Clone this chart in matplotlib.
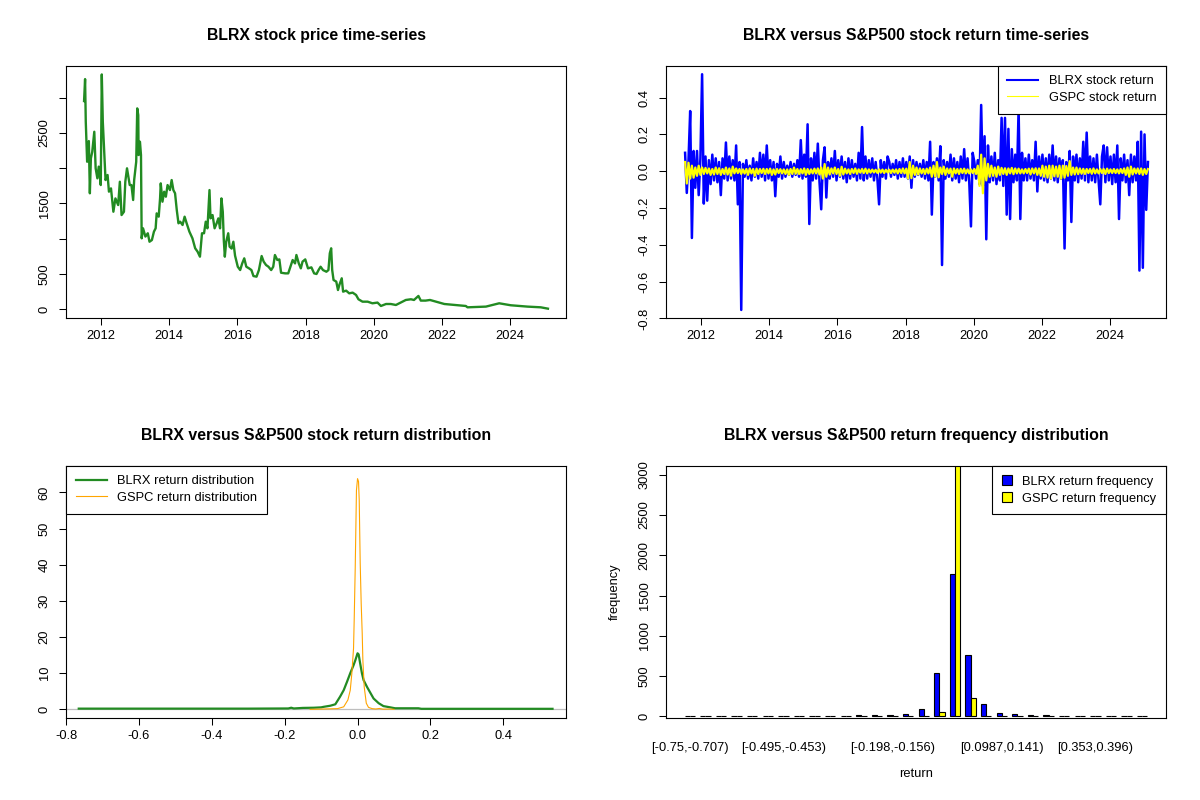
import numpy as np
import matplotlib
matplotlib.use("Agg")
import matplotlib.pyplot as plt
from matplotlib.patches import Patch
from matplotlib.lines import Line2D

plt.rcParams['font.family'] = ['Liberation Sans', 'DejaVu Sans']

# ---- BLRX price (decimal year, price) ----
price_years = [2011.50, 2011.53, 2011.55, 2011.59, 2011.64, 2011.67, 2011.70, 2011.74, 2011.80, 2011.84,
               2011.89, 2011.93, 2011.99, 2012.02, 2012.05, 2012.09, 2012.13, 2012.19, 2012.23, 2012.29,
               2012.36, 2012.42, 2012.50, 2012.55, 2012.60, 2012.67, 2012.71, 2012.76, 2012.84, 2012.89,
               2012.94, 2012.97, 2013.03, 2013.06, 2013.09, 2013.10, 2013.14, 2013.17, 2013.19, 2013.23,
               2013.30, 2013.37, 2013.42, 2013.49, 2013.55, 2013.60, 2013.63, 2013.69, 2013.73, 2013.75,
               2013.80, 2013.85, 2013.90, 2013.95, 2014.02, 2014.07, 2014.12, 2014.17, 2014.22, 2014.27,
               2014.32, 2014.39, 2014.45, 2014.51, 2014.59, 2014.68, 2014.76, 2014.83, 2014.90, 2014.96,
               2015.02, 2015.07, 2015.12, 2015.18, 2015.21, 2015.27, 2015.33, 2015.39, 2015.44, 2015.49,
               2015.53, 2015.57, 2015.60, 2015.63, 2015.67, 2015.73, 2015.77, 2015.83, 2015.88, 2015.93,
               2016.01, 2016.08, 2016.14, 2016.20, 2016.26, 2016.34, 2016.41, 2016.47, 2016.56, 2016.63,
               2016.71, 2016.77, 2016.84, 2016.91, 2016.99, 2017.05, 2017.10, 2017.17, 2017.23, 2017.28,
               2017.40, 2017.49, 2017.57, 2017.62, 2017.69, 2017.73, 2017.80, 2017.86, 2017.91, 2017.99,
               2018.07, 2018.17, 2018.25, 2018.32, 2018.38, 2018.44, 2018.51, 2018.61, 2018.67, 2018.71,
               2018.75, 2018.78, 2018.82, 2018.90, 2018.95, 2018.99, 2019.06, 2019.10, 2019.19, 2019.28,
               2019.38, 2019.48, 2019.55, 2019.67, 2019.82, 2019.96, 2020.11, 2020.21, 2020.36, 2020.50,
               2020.65, 2020.79, 2020.94, 2021.09, 2021.18, 2021.31, 2021.38, 2021.52, 2021.65, 2022.07,
               2022.70, 2022.75, 2023.29, 2023.68, 2024.02, 2024.51, 2024.90, 2025.11]
price_vals = [2950, 3261, 2657, 2090, 2383, 1643, 2138, 2232, 2515, 1997,
              1855, 2021, 1760, 3327, 2657, 2232, 1831, 1902, 1666, 1713,
              1382, 1571, 1477, 1807, 1335, 1382, 1807, 1997, 1760, 1760,
              1548, 1831, 2090, 2846, 2751, 2185, 2374, 2185, 1005, 1147,
              1030, 1077, 957, 981, 1100, 1147, 1359, 1312, 1571, 1784,
              1524, 1666, 1595, 1760, 1689, 1831, 1689, 1643, 1406, 1218,
              1241, 1194, 1312, 1218, 1100, 1005, 864, 817, 745, 1077,
              1077, 1241, 1147, 1689, 1288, 1335, 1147, 1218, 1288, 1147,
              1571, 1382, 981, 745, 957, 1077, 887, 860, 957, 760,
              603, 556, 650, 722, 603, 580, 556, 471, 462, 556,
              755, 675, 627, 603, 556, 603, 769, 698, 707, 518,
              509, 509, 627, 698, 650, 769, 650, 580, 675, 707,
              580, 594, 509, 500, 556, 603, 556, 532, 556, 793,
              864, 556, 415, 392, 273, 344, 439, 250, 264, 226,
              236, 203, 142, 108, 108, 85, 95, 47, 75, 75,
              61, 95, 132, 142, 132, 189, 123, 123, 132, 75,
              47, 28, 38, 85, 57, 38, 28, 9]

# ---- daily-return traces (sampled every ~0.05 yr from 2011.53 to 2025.11) ----
ret_start, ret_end = 2011.53, 2025.11
blrx_ret = [
    0.10, -0.118, 0.06, 0.327, -0.363, 0.11, -0.09, 0.11, -0.13, 0.07, 0.527, -0.176, 0.08, -0.16, 0.06, -0.07, 0.09, -0.05, 0.07, -0.06,
    0.05, -0.13, 0.07, -0.04, 0.156, -0.05, 0.08, -0.04, 0.06, -0.05, 0.14, -0.18, 0.05, -0.754, 0.04, -0.03, 0.06, -0.04, 0.03, -0.05,
    0.07, -0.03, 0.05, -0.04, 0.10, -0.03, 0.09, -0.05, 0.14, -0.04, 0.06, -0.05, 0.05, -0.136, 0.04, -0.03, 0.08, -0.04, 0.05, -0.03,
    0.03, -0.02, 0.05, -0.03, 0.04, -0.02, 0.06, -0.03, 0.169, -0.04, 0.09, -0.03, 0.255, -0.287, 0.07, -0.05, 0.10, -0.04, 0.15, -0.06,
    -0.207, 0.06, 0.13, -0.143, 0.05, -0.04, 0.07, -0.03, 0.11, -0.05, 0.06, -0.03, 0.08, -0.04, 0.05, -0.06, 0.07, -0.04, 0.06, -0.03,
    0.04, -0.05, 0.10, -0.04, 0.24, -0.05, 0.08, -0.04, 0.06, -0.03, 0.07, -0.05, 0.05, -0.04, -0.18, 0.06, -0.03, 0.05, -0.04, 0.08,
    0.05, -0.03, 0.04, -0.02, 0.06, -0.04, 0.05, -0.03, 0.07, -0.03, 0.05, -0.04, 0.08, -0.09, 0.06, -0.03, 0.05, -0.02, 0.04, -0.03,
    0.06, -0.04, 0.05, -0.05, 0.16, -0.236, 0.05, -0.03, 0.07, -0.05, 0.136, -0.51, 0.06, -0.04, 0.05, -0.03, 0.09, -0.05, 0.07, -0.04,
    0.05, -0.06, 0.08, -0.04, 0.12, -0.05, 0.07, -0.06, -0.30, 0.10, 0.05, -0.04, 0.06, -0.07, 0.36, -0.08, 0.19, -0.37, 0.14, -0.06,
    0.08, -0.05, 0.10, -0.07, 0.06, -0.05, 0.29, -0.08, 0.29, -0.236, 0.23, -0.26, 0.12, -0.06, 0.09, -0.05, 0.34, -0.26, 0.10, -0.05,
    0.07, -0.05, 0.09, -0.04, 0.06, -0.05, 0.16, -0.11, 0.08, -0.04, 0.09, -0.05, 0.07, -0.06, 0.09, -0.04, 0.14, -0.05, 0.08, -0.06,
    0.07, -0.04, 0.06, -0.42, 0.05, -0.05, 0.11, -0.276, 0.08, -0.05, 0.09, -0.06, 0.07, -0.04, 0.16, -0.05, 0.21, -0.06, 0.08, -0.05,
    0.07, -0.06, 0.09, -0.05, -0.18, 0.08, 0.14, -0.06, 0.13, -0.05, 0.08, -0.07, 0.09, -0.06, 0.14, -0.26, 0.07, -0.05, 0.09, -0.06,
    0.06, -0.13, 0.09, -0.06, 0.08, -0.05, 0.16, -0.54, 0.215, -0.525, 0.20, -0.21, 0.05,
]
gspc_ret = [
    0.05, -0.067, 0.046, -0.04, 0.03, -0.035, 0.02, -0.025, 0.03, -0.02, 0.02, -0.015, 0.018, -0.012, 0.015, -0.02, 0.012, -0.018, 0.02, -0.015,
    0.016, -0.02, 0.012, -0.015, 0.02, -0.018, 0.015, -0.024, 0.025, -0.012, 0.015, -0.01, 0.012, -0.015, 0.01, -0.013, 0.012, -0.02, 0.015, -0.012,
    0.012, -0.025, 0.014, -0.015, 0.012, -0.01, 0.013, -0.015, 0.012, -0.012, 0.014, -0.02, 0.01, -0.018, 0.012, -0.01, 0.011, -0.012, 0.01, -0.015,
    0.01, -0.02, 0.012, -0.015, 0.02, -0.014, 0.012, -0.015, 0.011, -0.012, 0.015, -0.02, 0.012, -0.015, 0.01, -0.012, 0.014, -0.012, 0.015, -0.018,
    0.02, -0.04, 0.039, -0.03, 0.02, -0.018, 0.015, -0.012, 0.02, -0.015, 0.012, -0.025, 0.024, -0.018, 0.014, -0.012, 0.01, -0.015, 0.012, -0.01,
    0.015, -0.014, 0.01, -0.008, 0.012, -0.01, 0.014, -0.012, 0.01, -0.008, 0.009, -0.007, 0.008, -0.009, 0.01, -0.008, 0.009, -0.01, 0.008, -0.007,
    0.008, -0.01, 0.009, -0.008, 0.01, -0.012, 0.012, -0.01, 0.015, -0.012, 0.014, -0.04, 0.05, -0.038, 0.03, -0.02, 0.02, -0.018, 0.015, -0.012,
    0.012, -0.015, 0.014, -0.012, 0.02, -0.03, 0.03, -0.03, 0.05, -0.033, 0.02, -0.015, 0.025, -0.02, 0.015, -0.012, 0.014, -0.03, 0.015, -0.012,
    0.012, -0.015, 0.013, -0.01, 0.014, -0.012, 0.01, -0.012, 0.01, -0.01, 0.012, -0.015, 0.03, -0.08, 0.09, -0.12, 0.07, -0.05, 0.04, -0.03,
    0.03, -0.025, 0.02, -0.03, 0.025, -0.02, 0.018, -0.015, 0.016, -0.02, 0.015, -0.012, 0.018, -0.016, 0.015, -0.012, 0.014, -0.012, 0.01, -0.012,
    0.012, -0.01, 0.014, -0.018, 0.015, -0.012, 0.016, -0.02, 0.015, -0.025, 0.03, -0.03, 0.025, -0.035, 0.03, -0.04, 0.03, -0.028, 0.025, -0.03,
    0.03, -0.04, 0.03, -0.035, 0.028, -0.025, 0.055, -0.02, 0.02, -0.018, 0.02, -0.016, 0.015, -0.014, 0.013, -0.015, 0.012, -0.01, 0.012, -0.014,
    0.015, -0.012, 0.01, -0.012, 0.012, -0.01, 0.012, -0.015, 0.014, -0.01, 0.01, -0.01, 0.012, -0.01, 0.01, -0.012, 0.012, -0.01, 0.015, -0.02,
    0.02, -0.03, 0.025, -0.018, 0.015, -0.012, 0.015, -0.015, 0.015, -0.02, 0.012, -0.015, 0.012,
]

# ---- kernel densities ----
blrx_dens_x = [-0.765, -0.30, -0.19, -0.182, -0.175, -0.15, -0.12, -0.10, -0.093, -0.075, -0.061, -0.048,
               -0.038, -0.029, -0.020, -0.011, -0.006, 0.000, 0.003, 0.007, 0.012, 0.0165, 0.026, 0.035,
               0.044, 0.058, 0.071, 0.090, 0.103, 0.167, 0.175, 0.535]
blrx_dens_y = [0.2, 0.2, 0.25, 0.45, 0.25, 0.4, 0.45, 0.55, 0.7, 1.0, 1.4, 3.5,
               5.3, 7.6, 10.0, 12.2, 13.6, 15.5, 15.2, 12.8, 10.0, 8.1, 6.2, 4.6,
               3.0, 1.7, 0.9, 0.55, 0.3, 0.3, 0.15, 0.15]
gspc_dens_x = [-0.13, -0.055, -0.038, -0.0265, -0.020, -0.0156, -0.011, -0.0092, -0.0064, -0.003, 0.000, 0.0027,
               0.0046, 0.0073, 0.010, 0.0128, 0.0146, 0.0183, 0.024, 0.030, 0.040, 0.050, 0.060, 0.070, 0.090, 0.10]
gspc_dens_y = [0.0, 0.2, 0.7, 2.6, 5.3, 10.0, 16.9, 24.7, 39.0, 60.6, 63.8, 63.0,
               57.9, 40.4, 29.3, 21.0, 13.6, 6.2, 1.7, 0.55, 0.2, 0.1, 0.25, 0.05, 0.1, 0.0]

# ---- return frequency table ----
bin_labels = ['[-0.75,-0.707)', '[-0.707,-0.665)', '[-0.665,-0.622)', '[-0.622,-0.58)', '[-0.58,-0.537)',
              '[-0.537,-0.495)', '[-0.495,-0.453)', '[-0.453,-0.41)', '[-0.41,-0.368)', '[-0.368,-0.325)',
              '[-0.325,-0.283)', '[-0.283,-0.24)', '[-0.24,-0.198)', '[-0.198,-0.156)', '[-0.156,-0.113)',
              '[-0.113,-0.0709)', '[-0.0709,-0.0285)', '[-0.0285,0.0139)', '[0.0139,0.0563)', '[0.0563,0.0987)',
              '[0.0987,0.141)', '[0.141,0.184)', '[0.184,0.226)', '[0.226,0.268)', '[0.268,0.311)',
              '[0.311,0.353)', '[0.353,0.396)', '[0.396,0.438)', '[0.438,0.48)', '[0.48,0.523]']
blrx_freq = [1, 0, 0, 0, 0, 1, 0, 0, 0, 0, 1, 12, 12, 12, 29, 87, 533, 1766, 760, 149,
             41, 29, 12, 12, 3, 2, 1, 0, 0, 1]
gspc_freq = [0, 0, 0, 0, 0, 0, 0, 0, 0, 0, 0, 0, 0, 0, 1, 2, 54, 3130, 223, 8,
             0, 0, 0, 0, 0, 0, 0, 0, 0, 0]
shown_labels = [0, 6, 13, 20, 26]

FS = 9.3
TFS = 11.4
fig = plt.figure(figsize=(12, 8), dpi=100)


def add_px_axes(left, top, right, bottom):
    return fig.add_axes([left / 1200, 1 - bottom / 800, (right - left) / 1200, (bottom - top) / 800])


def r_style(ax):
    for s in ax.spines.values():
        s.set_linewidth(0.8)
        s.set_color('black')
    ax.tick_params(direction='out', length=5, width=0.75, labelsize=FS, colors='black')
    ax.tick_params(axis='x', pad=3.5)
    ax.tick_params(axis='y', pad=6)
    for lab in ax.get_yticklabels():
        lab.set_rotation(90)
        lab.set_va('center')


def title(ax, text):
    pos = ax.get_position()
    fig.text(pos.x0 + pos.width / 2, pos.y1 + 30 / 800, text, ha='center', va='center',
             fontsize=TFS, fontweight='bold')


def r_legend(ax, handles, labels, loc, **kw):
    leg = ax.legend(handles, labels, loc=loc, fontsize=FS, frameon=True, fancybox=False,
                    borderaxespad=0, handletextpad=0.8, borderpad=0.75, labelspacing=0.35,
                    framealpha=1, **kw)
    leg.get_frame().set_edgecolor('black')
    leg.get_frame().set_linewidth(0.8)
    return leg


year_ticks = [2012, 2014, 2016, 2018, 2020, 2022, 2024]

# top-left: price
ax1 = add_px_axes(66, 65.6, 566, 318.4)
ax1.plot(price_years, price_vals, color='forestgreen', lw=1.7)
ax1.set_xlim(2010.97, 2025.64)
ax1.set_ylim(-129, 3452)
ax1.set_xticks(year_ticks)
ax1.set_xticklabels([str(y) for y in year_ticks])
ax1.set_yticks([0, 500, 1000, 1500, 2000, 2500, 3000])
ax1.set_yticklabels(['0', '500', '', '1500', '', '2500', ''])
r_style(ax1)
title(ax1, 'BLRX stock price time-series')

# top-right: returns
ax2 = add_px_axes(666, 65.6, 1166, 318.4)
ret_x_b = np.linspace(ret_start, ret_end, len(blrx_ret))
ret_x_g = np.linspace(ret_start, ret_end, len(gspc_ret))
ax2.plot(ret_x_b, blrx_ret, color='#0000FF', lw=1.8)
ax2.plot(ret_x_g, gspc_ret, color='#FFFF00', lw=1.6)
ax2.set_xlim(2010.97, 2025.64)
ax2.set_ylim(-0.80, 0.574)
ax2.set_xticks(year_ticks)
ax2.set_xticklabels([str(y) for y in year_ticks])
ax2.set_yticks([-0.8, -0.6, -0.4, -0.2, 0.0, 0.2, 0.4])
ax2.set_yticklabels(['-0.8', '-0.6', '-0.4', '-0.2', '0.0', '0.2', '0.4'])
r_style(ax2)
r_legend(ax2, [Line2D([], [], color='#0000FF', lw=1.5), Line2D([], [], color='#FFFF00', lw=0.8)],
         ['BLRX stock return', 'GSPC stock return'], 'upper right', handlelength=2.4)
title(ax2, 'BLRX versus S&P500 stock return time-series')

# bottom-left: density
ax3 = add_px_axes(66, 465.6, 566, 718.4)
ax3.axhline(0, color='#BEBEBE', lw=0.9, zorder=1)
ax3.plot(blrx_dens_x, blrx_dens_y, color='forestgreen', lw=1.6, zorder=2)
ax3.plot(gspc_dens_x, gspc_dens_y, color='#FFA500', lw=0.8, zorder=3)
ax3.set_xlim(-0.80, 0.572)
ax3.set_ylim(-2.5, 67.4)
ax3.set_xticks([-0.8, -0.6, -0.4, -0.2, 0.0, 0.2, 0.4])
ax3.set_xticklabels(['-0.8', '-0.6', '-0.4', '-0.2', '0.0', '0.2', '0.4'])
ax3.set_yticks([0, 10, 20, 30, 40, 50, 60])
ax3.set_yticklabels(['0', '10', '20', '30', '40', '50', '60'])
r_style(ax3)
r_legend(ax3, [Line2D([], [], color='forestgreen', lw=1.6), Line2D([], [], color='#FFA500', lw=0.8)],
         ['BLRX return distribution', 'GSPC return distribution'], 'upper left', handlelength=2.4)
title(ax3, 'BLRX versus S&P500 stock return distribution')

# bottom-right: grouped frequency bars
ax4 = add_px_axes(666, 465.6, 1166, 718.4)
groups = np.arange(len(bin_labels))
ax4.bar(1.5 + 3 * groups, blrx_freq, width=1, color='#0000FF', edgecolor='black', linewidth=0.8)
ax4.bar(2.5 + 3 * groups, gspc_freq, width=1, color='#FFFF00', edgecolor='black', linewidth=0.8)
ax4.set_xlim(-2.56, 93.56)
ax4.set_ylim(-24, 3112)
ax4.set_xticks([2 + 3 * g for g in shown_labels])
ax4.set_xticklabels([bin_labels[g] for g in shown_labels])
ax4.set_yticks([0, 500, 1000, 1500, 2000, 2500, 3000])
ax4.set_yticklabels(['0', '500', '1000', '1500', '2000', '2500', '3000'])
r_style(ax4)
ax4.tick_params(axis='x', length=0, pad=17)
ax4.set_xlabel('return', fontsize=FS, labelpad=10)
ax4.set_ylabel('frequency', fontsize=FS, labelpad=13)
r_legend(ax4, [Patch(facecolor='#0000FF', edgecolor='black', linewidth=0.8),
               Patch(facecolor='#FFFF00', edgecolor='black', linewidth=0.8)],
         ['BLRX return frequency', 'GSPC return frequency'], 'upper right',
         handlelength=0.8, handleheight=0.8)
title(ax4, 'BLRX versus S&P500 return frequency distribution')

fig.savefig('out.png', dpi=100)
